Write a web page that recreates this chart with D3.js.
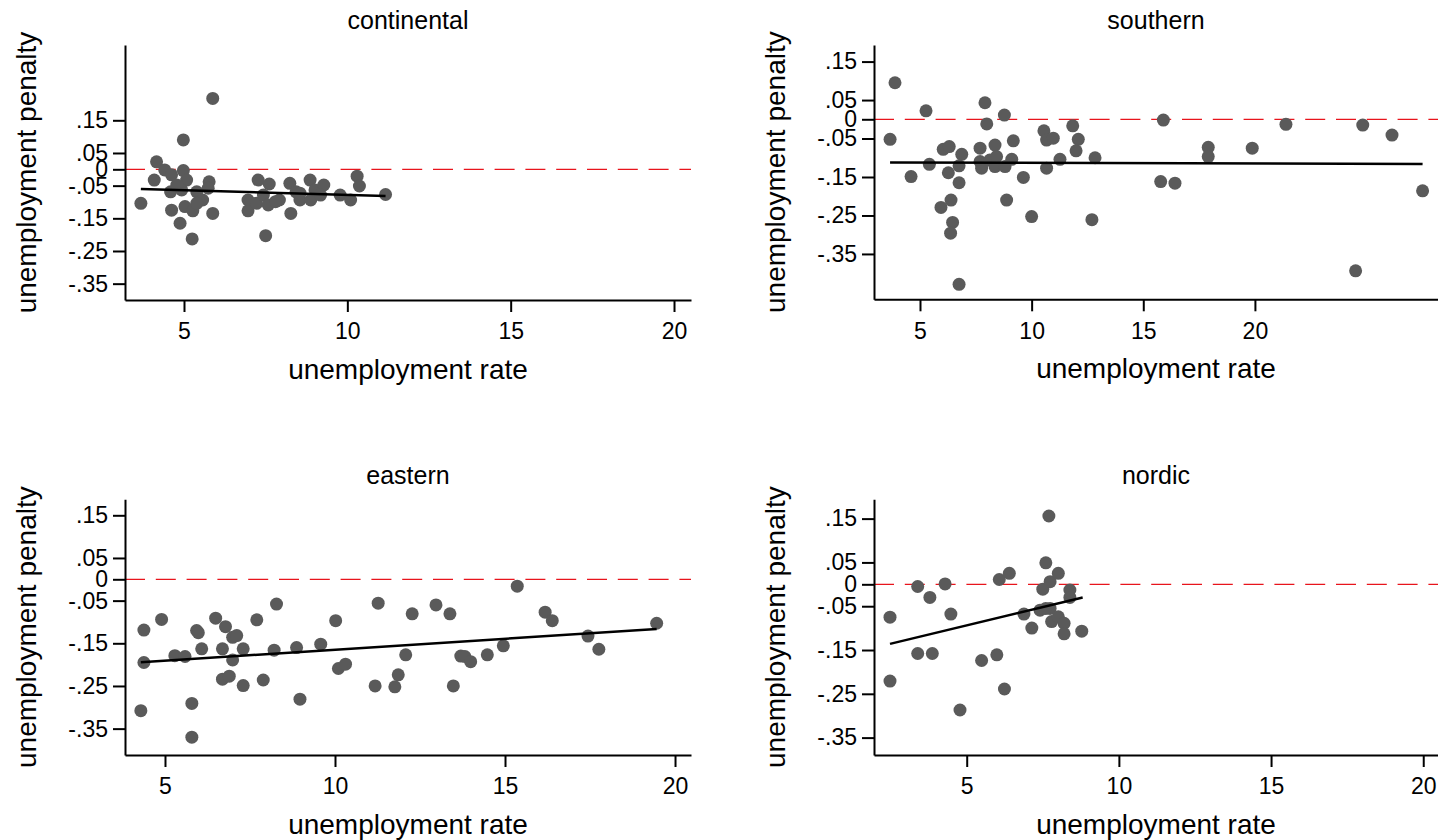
<!DOCTYPE html>
<html lang="en">
<head>
<meta charset="utf-8">
<title>unemployment penalty by regime</title>
<script src="https://cdn.jsdelivr.net/npm/d3@7"></script>
<style>
  body { margin: 0; background: #fff; }
  svg { display: block; background: #fff; }
  text { font-family: "Liberation Sans", Arial, sans-serif; fill: #000; }
  .axis path, .axis line { stroke: #000; stroke-width: 2; }
  .axis text { font-size: 23px; }
</style>
</head>
<body>
<svg id="chart" width="1438" height="840"></svg>
<script>
// values
var regions = ["continental", "southern", "eastern", "nordic"];

var contRate = [3.68, 5.88, 4.98, 4.16, 4.09, 4.41, 4.62, 4.98, 5.08, 4.59, 4.93, 4.62, 4.88, 5.25, 5.39,
  5.57, 5.03, 5.27, 5.77, 5.74, 5.88, 5.39, 4.78, 7.27, 7.61, 6.96, 6.96, 7.22, 7.43, 7.58, 7.50, 7.92,
  8.24, 8.27, 8.43, 8.55, 8.86, 8.88, 9.01, 9.28, 9.18, 9.78, 10.10, 10.30, 10.37, 11.17, 7.80, 8.55];
var contPenalty = [-0.104, 0.217, 0.090, 0.023, -0.033, -0.002, -0.017, -0.004, -0.033, -0.069, -0.063,
  -0.125, -0.165, -0.213, -0.069, -0.094, -0.114, -0.127, -0.038, -0.058, -0.135, -0.104, -0.048, -0.033,
  -0.045, -0.094, -0.127, -0.104, -0.079, -0.109, -0.203, -0.094, -0.043, -0.135, -0.069, -0.094, -0.033,
  -0.094, -0.063, -0.048, -0.079, -0.079, -0.094, -0.021, -0.051, -0.077, -0.099, -0.073];
var contFitRate = [3.68, 11.17];
var contFitPenalty = [-0.060, -0.082];

var southRate = [3.88, 3.66, 5.27, 5.42, 4.60, 6.04, 6.31, 6.27, 5.94, 6.39, 6.46, 6.37, 6.75, 6.87, 6.75,
  6.75, 7.91, 7.99, 7.69, 7.69, 7.76, 8.13, 8.36, 8.43, 8.36, 8.78, 8.81, 9.11, 9.18, 8.88, 9.63, 10.0,
  10.55, 10.67, 10.97, 10.67, 11.27, 11.84, 12.09, 11.99, 12.70, 12.84, 15.90, 15.78, 16.42, 17.91, 17.91,
  19.88, 21.39, 24.83, 24.51, 26.14, 27.51];
var southPenalty = [0.095, -0.052, 0.022, -0.117, -0.149, -0.078, -0.071, -0.139, -0.229, -0.210, -0.268,
  -0.296, -0.429, -0.091, -0.121, -0.165, 0.043, -0.012, -0.075, -0.110, -0.127, -0.106, -0.067, -0.097,
  -0.123, 0.011, -0.123, -0.104, -0.056, -0.210, -0.151, -0.253, -0.030, -0.054, -0.049, -0.127, -0.104,
  -0.017, -0.052, -0.082, -0.261, -0.100, -0.002, -0.162, -0.166, -0.073, -0.097, -0.075, -0.013, -0.015,
  -0.394, -0.041, -0.186];
var southFitRate = [3.66, 27.51];
var southFitPenalty = [-0.112, -0.116];

var eastRate = [4.38, 4.38, 4.29, 4.90, 5.29, 5.59, 5.93, 5.98, 6.08, 5.79, 5.79, 6.49, 6.78, 6.99, 7.11,
  6.69, 7.30, 6.99, 6.69, 6.89, 7.30, 7.70, 8.28, 8.21, 7.89, 8.87, 8.97, 9.58, 10.02, 10.10, 10.31, 11.27,
  11.18, 12.27, 12.08, 11.86, 11.76, 12.97, 13.38, 13.48, 13.70, 13.82, 13.99, 14.48, 14.95, 15.36, 16.18,
  16.39, 17.44, 17.76, 19.46];
var eastPenalty = [-0.119, -0.195, -0.308, -0.094, -0.179, -0.181, -0.120, -0.125, -0.163, -0.291, -0.370,
  -0.091, -0.111, -0.136, -0.132, -0.163, -0.163, -0.189, -0.234, -0.227, -0.249, -0.095, -0.058, -0.166,
  -0.236, -0.160, -0.281, -0.152, -0.097, -0.209, -0.199, -0.056, -0.250, -0.081, -0.177, -0.224, -0.252,
  -0.060, -0.081, -0.250, -0.180, -0.181, -0.193, -0.177, -0.156, -0.016, -0.077, -0.097, -0.133, -0.164,
  -0.103];
var eastFitRate = [4.29, 19.46];
var eastFitPenalty = [-0.1945, -0.1165];

var nordRate = [2.48, 2.48, 3.39, 3.79, 4.29, 4.48, 3.39, 3.87, 4.78, 5.49, 5.99, 6.24, 6.07, 6.40, 6.88,
  7.14, 7.41, 7.60, 7.70, 7.50, 7.74, 8.01, 7.74, 7.79, 8.01, 8.20, 8.20, 8.39, 8.39, 8.78, 7.60];
var nordPenalty = [-0.075, -0.221, -0.005, -0.030, 0.001, -0.068, -0.158, -0.158, -0.287, -0.174, -0.161,
  -0.239, 0.011, 0.025, -0.068, -0.100, -0.059, 0.049, 0.156, -0.011, 0.006, 0.025, -0.055, -0.085, -0.074,
  -0.089, -0.113, -0.013, -0.030, -0.107, -0.055];
var nordFitRate = [2.48, 8.81];
var nordFitPenalty = [-0.136, -0.030];

var xTickValues = [5, 10, 15, 20];
var yTickValues = [0.15, 0.05, 0, -0.05, -0.15, -0.25, -0.35];
var yTickLabels = [".15", ".05", "0", "-.05", "-.15", "-.25", "-.35"];
var xTitle = "unemployment rate";
var yTitle = "unemployment penalty";

// panel frames (px) and axis ranges
var panels = [
  {rate: contRate, pen: contPenalty, fitX: contFitRate, fitY: contFitPenalty,
   left: 125, right: 691, top: 45, bottom: 300, xDom: [3.194, 20.52], yDom: [-0.400, 0.3805]},
  {rate: southRate, pen: southPenalty, fitX: southFitRate, fitY: southFitPenalty,
   left: 874, right: 1438, top: 45, bottom: 299.3, xDom: [2.94, 28.2], yDom: [-0.4679, 0.1931]},
  {rate: eastRate, pen: eastPenalty, fitX: eastFitRate, fitY: eastFitPenalty,
   left: 125, right: 691, top: 499.3, bottom: 755, xDom: [3.824, 20.47], yDom: [-0.4118, 0.1875]},
  {rate: nordRate, pen: nordPenalty, fitX: nordFitRate, fitY: nordFitPenalty,
   left: 874, right: 1438, top: 499.3, bottom: 755, xDom: [1.954, 20.485], yDom: [-0.3897, 0.1941]}
];

var svg = d3.select("#chart");

panels.forEach(function(p, i) {
  var x = d3.scaleLinear().domain(p.xDom).range([p.left, p.right]);
  var y = d3.scaleLinear().domain(p.yDom).range([p.bottom, p.top]);
  var g = svg.append("g");

  // zero reference line
  g.append("line")
    .attr("x1", x(p.xDom[0])).attr("x2", x(p.xDom[1]))
    .attr("y1", y(0)).attr("y2", y(0))
    .attr("stroke", "#e8141c").attr("stroke-width", 1.2)
    .attr("stroke-dasharray", "20,10.8");

  var pts = p.rate.map(function(r, k) { return {r: r, v: p.pen[k]}; });
  g.selectAll("circle").data(pts).enter().append("circle")
    .attr("cx", function(d) { return x(d.r); })
    .attr("cy", function(d) { return y(d.v); })
    .attr("r", 6.5)
    .attr("fill", "#5a5a5a");

  var fit = p.fitX.map(function(r, k) { return [r, p.fitY[k]]; });
  g.append("path")
    .datum(fit)
    .attr("fill", "none").attr("stroke", "#000").attr("stroke-width", 2.5)
    .attr("d", d3.line().x(function(d) { return x(d[0]); }).y(function(d) { return y(d[1]); }));

  g.append("g").attr("class", "axis")
    .attr("transform", "translate(0," + p.bottom + ")")
    .call(d3.axisBottom(x).tickValues(xTickValues).tickSize(12).tickSizeOuter(0).tickPadding(11)
      .tickFormat(d3.format("d")));

  g.append("g").attr("class", "axis")
    .attr("transform", "translate(" + p.left + ",0)")
    .call(d3.axisLeft(y).tickValues(yTickValues).tickSize(12).tickSizeOuter(0).tickPadding(5)
      .tickFormat(function(d, k) { return yTickLabels[k]; }));

  var cx = (p.left + p.right) / 2;
  g.append("text")
    .attr("x", cx).attr("y", p.top - 15.7)
    .attr("text-anchor", "middle").style("font-size", "25px")
    .text(regions[i]);

  g.append("text")
    .attr("x", cx).attr("y", p.bottom + 79)
    .attr("text-anchor", "middle").style("font-size", "28px")
    .text(xTitle);

  g.append("text")
    .attr("transform", "translate(" + (p.left - 89) + "," + ((p.top + p.bottom) / 2) + ") rotate(-90)")
    .attr("text-anchor", "middle").style("font-size", "28px")
    .text(yTitle);
});
</script>
</body>
</html>
